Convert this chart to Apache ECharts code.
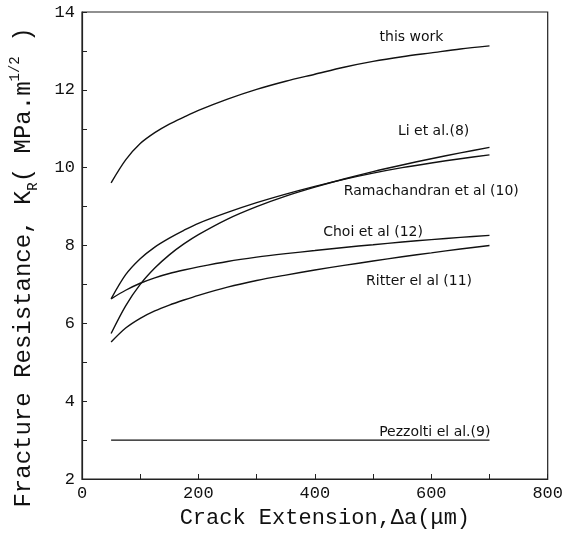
<!DOCTYPE html>
<html>
<head>
<meta charset="utf-8">
<script src="https://cdn.jsdelivr.net/npm/echarts@6/dist/echarts.min.js"></script>
<style>
  html, body { margin: 0; padding: 0; background: #fff; }
  #chart { width: 566px; height: 535px; }
</style>
</head>
<body>
<div id="chart"></div>
<script>
// crack extension (um)
const crackExt = [50, 75, 100, 125, 150, 175, 200, 250, 300, 350, 400, 450, 500, 550, 600, 650, 700];
// K_R values (MPa.m^1/2)
const thisWork = [9.61, 10.2, 10.62, 10.9, 11.12, 11.3, 11.47, 11.76, 12.01, 12.22, 12.4, 12.58, 12.73, 12.85, 12.95, 13.05, 13.13];
const liEtAl = [5.74, 6.45, 7.0, 7.42, 7.76, 8.04, 8.28, 8.68, 9.0, 9.27, 9.5, 9.71, 9.9, 10.07, 10.23, 10.38, 10.52];
const ramachandran = [6.63, 7.25, 7.66, 7.96, 8.19, 8.39, 8.57, 8.85, 9.1, 9.32, 9.52, 9.7, 9.86, 10.0, 10.12, 10.23, 10.33];
const choi = [6.63, 6.85, 7.03, 7.17, 7.28, 7.37, 7.45, 7.59, 7.7, 7.79, 7.87, 7.95, 8.02, 8.09, 8.15, 8.21, 8.26];
const ritter = [5.52, 5.88, 6.13, 6.32, 6.47, 6.6, 6.72, 6.93, 7.1, 7.24, 7.37, 7.49, 7.6, 7.71, 7.81, 7.91, 8.0];
const pezzolti = [3, 3, 3, 3, 3, 3, 3, 3, 3, 3, 3, 3, 3, 3, 3, 3, 3];

const xTicks = [0, 200, 400, 600, 800];
const yTicks = [2, 4, 6, 8, 10, 12, 14];

const chart = echarts.init(document.getElementById('chart'));

const pairs = vals => crackExt.map((x, i) => [x, vals[i]]);

// a curve plus its text label placed at a data coordinate
const curve = (name, vals, labelAt) => ({
  name: name,
  type: 'line',
  data: pairs(vals),
  smooth: 0.3,
  symbol: 'none',
  lineStyle: { color: '#111', width: 1.4 },
  markPoint: {
    symbol: 'circle',
    symbolSize: 0,
    silent: true,
    label: {
      show: true,
      position: 'inside',
      formatter: name,
      color: '#111',
      fontFamily: 'DejaVu Sans',
      fontSize: 14,
    },
    data: [{ coord: labelAt }],
  },
});

const titleFont = 'Liberation Mono';

const option = {
  animation: false,
  backgroundColor: '#fff',
  grid: {
    left: 82,
    right: 17,
    top: 12,
    bottom: 56,
    show: true,
    borderColor: '#222',
    borderWidth: 1.2,
  },
  xAxis: {
    type: 'value',
    min: xTicks[0],
    max: xTicks[xTicks.length - 1],
    interval: 200,
    name: 'Crack Extension,\u0394a(\u03bcm)',
    nameLocation: 'middle',
    nameGap: 28,
    nameTextStyle: { fontFamily: titleFont, fontSize: 22, color: '#111', padding: [0, 0, 0, 20] },
    axisLine: { lineStyle: { color: '#222', width: 1.2 } },
    axisTick: { inside: true, length: 5, lineStyle: { color: '#222' } },
    minorTick: { show: true, splitNumber: 2, length: 5, lineStyle: { color: '#222' } },
    splitLine: { show: false },
    axisLabel: { fontFamily: titleFont, fontSize: 17, color: '#111', margin: 6 },
  },
  yAxis: {
    type: 'value',
    min: yTicks[0],
    max: yTicks[yTicks.length - 1],
    interval: 2,
    name: '{n|Fracture Resistance, K}{s|R}{n|( MPa.m}{p|1/2}{n| )}',
    nameLocation: 'middle',
    nameGap: 42,
    nameTextStyle: {
      color: '#111',
      padding: [0, 44, 0, 0],
      rich: {
        n: { fontFamily: titleFont, fontSize: 24, lineHeight: 32, color: '#111' },
        s: { fontFamily: titleFont, fontSize: 14, lineHeight: 15, verticalAlign: 'bottom', color: '#111' },
        p: { fontFamily: titleFont, fontSize: 14, lineHeight: 15, verticalAlign: 'top', color: '#111' },
      },
    },
    axisLine: { lineStyle: { color: '#222', width: 1.2 } },
    axisTick: { inside: true, length: 5, lineStyle: { color: '#222' } },
    minorTick: { show: true, splitNumber: 2, length: 5, lineStyle: { color: '#222' } },
    splitLine: { show: false },
    axisLabel: { fontFamily: titleFont, fontSize: 17, color: '#111', margin: 7 },
  },
  series: [
    curve('this work', thisWork, [566, 13.35]),
    curve('Li et al.(8)', liEtAl, [604, 10.94]),
    curve('Ramachandran et al (10)', ramachandran, [600, 9.38]),
    curve('Choi et al (12)', choi, [500, 8.35]),
    curve('Ritter el al (11)', ritter, [579, 7.09]),
    curve('Pezzolti el al.(9)', pezzolti, [606, 3.19]),
  ],
};

chart.setOption(option);
window.onresize = function() {
  chart.resize();
};
</script>
</body>
</html>
